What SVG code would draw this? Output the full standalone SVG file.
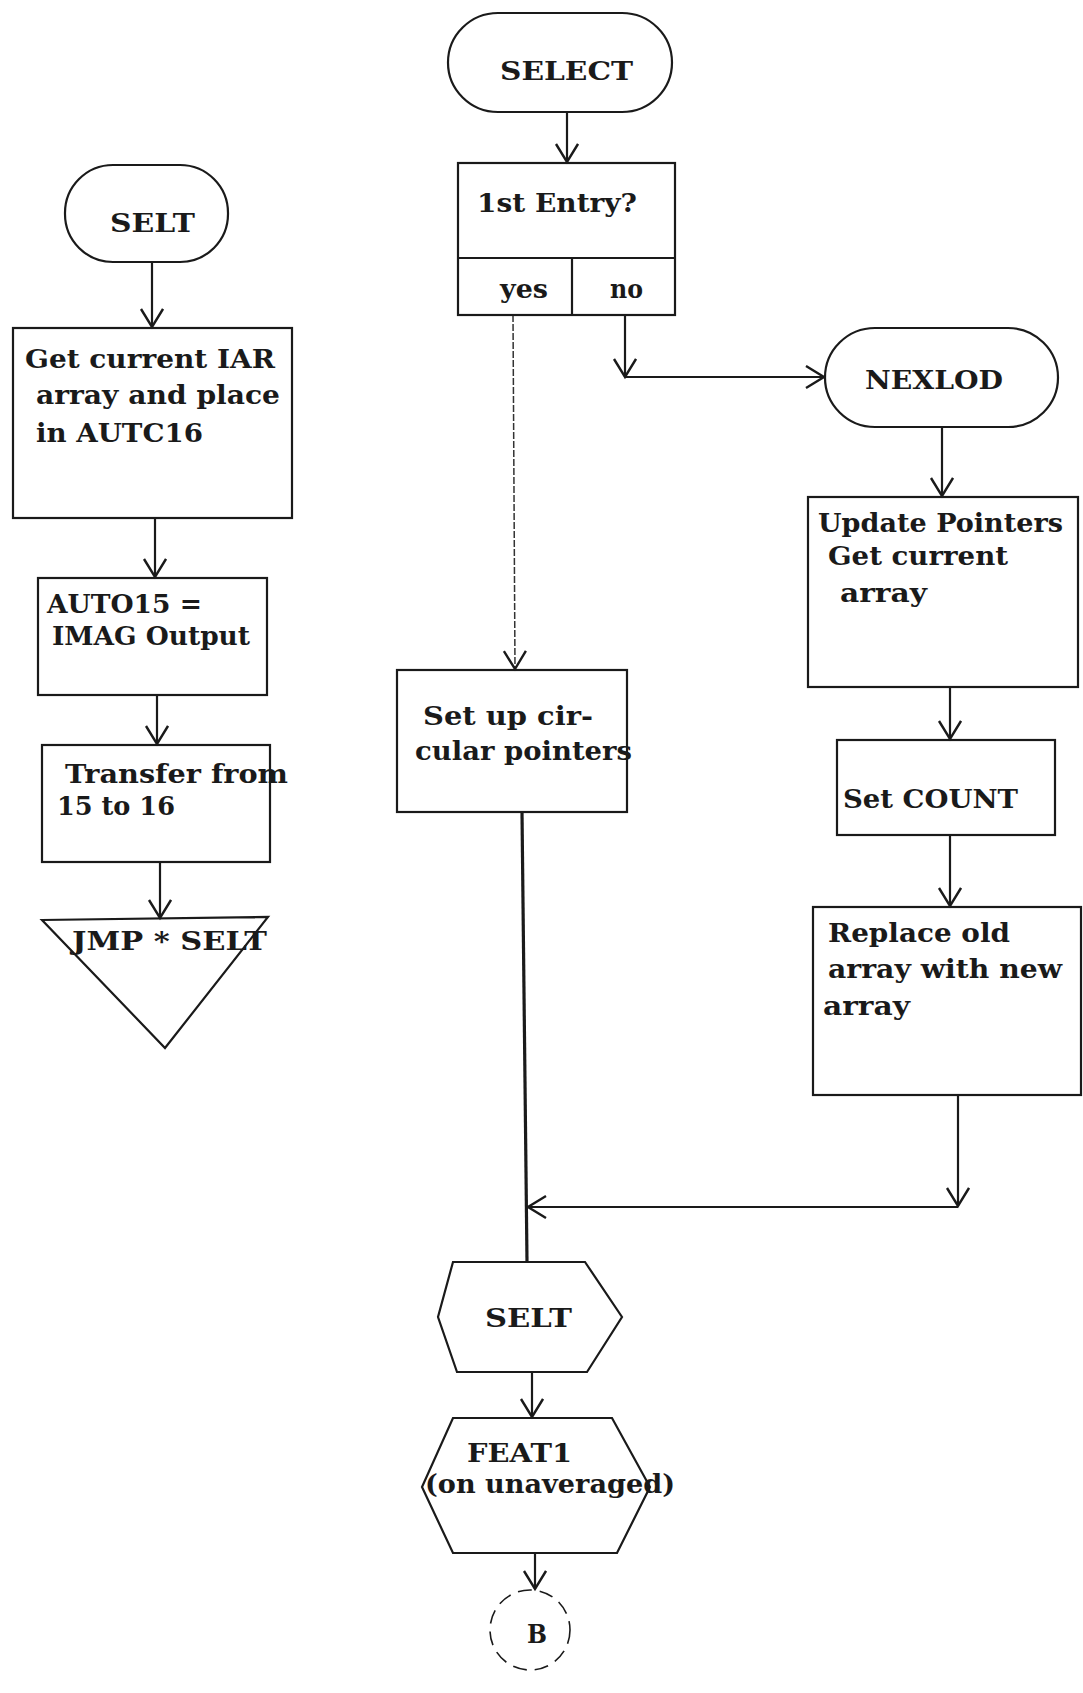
<svg xmlns="http://www.w3.org/2000/svg" width="1083" height="1693" viewBox="0 0 1083 1693">
<defs>
<style>
.s{fill:none;stroke:#1a1a1a;stroke-width:2.2}
.c{fill:none;stroke:#1a1a1a;stroke-width:2.2}
.t{font-family:"DejaVu Serif","Liberation Serif",serif;font-weight:bold;font-size:26px;fill:#1a1a1a}
</style>
<marker id="ah" markerUnits="userSpaceOnUse" markerWidth="30" markerHeight="30" refX="20" refY="12" orient="auto">
<path d="M2,1 L20,12 L2,23" fill="none" stroke="#1a1a1a" stroke-width="2.4"/>
</marker>
</defs>
<rect width="1083" height="1693" fill="#ffffff"/>

<g id="connectors">
<line class="c" x1="152" y1="262" x2="152" y2="327" marker-end="url(#ah)"/>
<line class="c" x1="155" y1="518" x2="155" y2="577" marker-end="url(#ah)"/>
<line class="c" x1="157" y1="695" x2="157" y2="744" marker-end="url(#ah)"/>
<line class="c" x1="160" y1="862" x2="160" y2="918" marker-end="url(#ah)"/>
<line class="c" x1="567" y1="112" x2="567" y2="162" marker-end="url(#ah)"/>
<line x1="513" y1="315" x2="515" y2="669" fill="none" stroke="#333" stroke-width="1.5" stroke-dasharray="7,2" marker-end="url(#ah)"/>
<line class="c" x1="625" y1="315" x2="625" y2="377" marker-end="url(#ah)"/>
<line class="c" x1="625" y1="377" x2="824" y2="377" marker-end="url(#ah)"/>
<line class="c" x1="942" y1="427" x2="942" y2="496" marker-end="url(#ah)"/>
<line class="c" x1="950" y1="687" x2="950" y2="739" marker-end="url(#ah)"/>
<line class="c" x1="950" y1="835" x2="950" y2="906" marker-end="url(#ah)"/>
<line class="c" x1="958" y1="1095" x2="958" y2="1206" marker-end="url(#ah)"/>
<line class="c" x1="958" y1="1207" x2="528" y2="1207" marker-end="url(#ah)"/>
<line x1="522" y1="812" x2="527" y2="1262" fill="none" stroke="#1a1a1a" stroke-width="3.2"/>
<line class="c" x1="532" y1="1372" x2="532" y2="1417" marker-end="url(#ah)"/>
<line class="c" x1="535" y1="1553" x2="535" y2="1589" marker-end="url(#ah)"/>
</g>

<g id="selt-start">
<rect class="s" x="65" y="165" width="163" height="97" rx="48" ry="48"/>
<text class="t" x="110" y="232" textLength="85" lengthAdjust="spacingAndGlyphs">SELT</text>
</g>

<g id="get-iar">
<rect class="s" x="13" y="328" width="279" height="190"/>
<text class="t" x="25" y="368" textLength="250" lengthAdjust="spacingAndGlyphs">Get current IAR</text>
<text class="t" x="36" y="404" textLength="244" lengthAdjust="spacingAndGlyphs">array and place</text>
<text class="t" x="36" y="442" textLength="167" lengthAdjust="spacingAndGlyphs">in AUTC16</text>
</g>

<g id="auto15">
<rect class="s" x="38" y="578" width="229" height="117"/>
<text class="t" x="47" y="613" textLength="155" lengthAdjust="spacingAndGlyphs">AUTO15 =</text>
<text class="t" x="52" y="645" textLength="198" lengthAdjust="spacingAndGlyphs">IMAG Output</text>
</g>

<g id="transfer">
<rect class="s" x="42" y="745" width="228" height="117"/>
<text class="t" x="65" y="783" textLength="223" lengthAdjust="spacingAndGlyphs">Transfer from</text>
<text class="t" x="57" y="815" textLength="118" lengthAdjust="spacingAndGlyphs">15 to 16</text>
</g>

<g id="jmp-selt">
<polygon class="s" points="42,920 268,917 165,1048"/>
<text class="t" x="72" y="950" textLength="195" lengthAdjust="spacingAndGlyphs">JMP * SELT</text>
</g>

<g id="select">
<rect class="s" x="448" y="13" width="224" height="99" rx="50" ry="50"/>
<text class="t" x="500" y="80" textLength="133" lengthAdjust="spacingAndGlyphs">SELECT</text>
</g>

<g id="first-entry">
<rect class="s" x="458" y="163" width="217" height="152"/>
<line class="s" x1="458" y1="258" x2="675" y2="258"/>
<line class="s" x1="572" y1="258" x2="572" y2="315"/>
<text class="t" x="477" y="212" textLength="160" lengthAdjust="spacingAndGlyphs">1st Entry?</text>
<text class="t" x="500" y="298" textLength="48" lengthAdjust="spacingAndGlyphs">yes</text>
<text class="t" x="610" y="298" textLength="33" lengthAdjust="spacingAndGlyphs">no</text>
</g>

<g id="nexlod">
<rect class="s" x="825" y="328" width="233" height="99" rx="50" ry="50"/>
<text class="t" x="865" y="389" textLength="138" lengthAdjust="spacingAndGlyphs">NEXLOD</text>
</g>

<g id="update-pointers">
<rect class="s" x="808" y="497" width="270" height="190"/>
<text class="t" x="818" y="532" textLength="245" lengthAdjust="spacingAndGlyphs">Update Pointers</text>
<text class="t" x="828" y="565" textLength="180" lengthAdjust="spacingAndGlyphs">Get current</text>
<text class="t" x="840" y="602" textLength="87" lengthAdjust="spacingAndGlyphs">array</text>
</g>

<g id="set-count">
<rect class="s" x="837" y="740" width="218" height="95"/>
<text class="t" x="843" y="808" textLength="175" lengthAdjust="spacingAndGlyphs">Set COUNT</text>
</g>

<g id="replace">
<rect class="s" x="813" y="907" width="268" height="188"/>
<text class="t" x="828" y="942" textLength="182" lengthAdjust="spacingAndGlyphs">Replace old</text>
<text class="t" x="828" y="978" textLength="234" lengthAdjust="spacingAndGlyphs">array with new</text>
<text class="t" x="823" y="1015" textLength="87" lengthAdjust="spacingAndGlyphs">array</text>
</g>

<g id="setup-circular">
<rect class="s" x="397" y="670" width="230" height="142"/>
<text class="t" x="423" y="725" textLength="170" lengthAdjust="spacingAndGlyphs">Set up cir-</text>
<text class="t" x="415" y="760" textLength="217" lengthAdjust="spacingAndGlyphs">cular pointers</text>
</g>

<g id="selt-hex">
<polygon class="s" points="453,1262 585,1262 622,1317 587,1372 457,1372 438,1317"/>
<text class="t" x="485" y="1327" textLength="87" lengthAdjust="spacingAndGlyphs">SELT</text>
</g>

<g id="feat1">
<polygon class="s" points="453,1418 612,1418 650,1487 617,1553 453,1553 422,1487"/>
<text class="t" x="467" y="1462" textLength="105" lengthAdjust="spacingAndGlyphs">FEAT1</text>
<text class="t" x="425" y="1493" textLength="250" lengthAdjust="spacingAndGlyphs">(on unaveraged)</text>
</g>

<g id="b-connector">
<circle cx="530" cy="1630" r="40" fill="none" stroke="#1a1a1a" stroke-width="1.6" stroke-dasharray="14,8"/>
<text class="t" x="527" y="1643" font-size="21" textLength="20" lengthAdjust="spacingAndGlyphs">B</text>
</g>
</svg>
